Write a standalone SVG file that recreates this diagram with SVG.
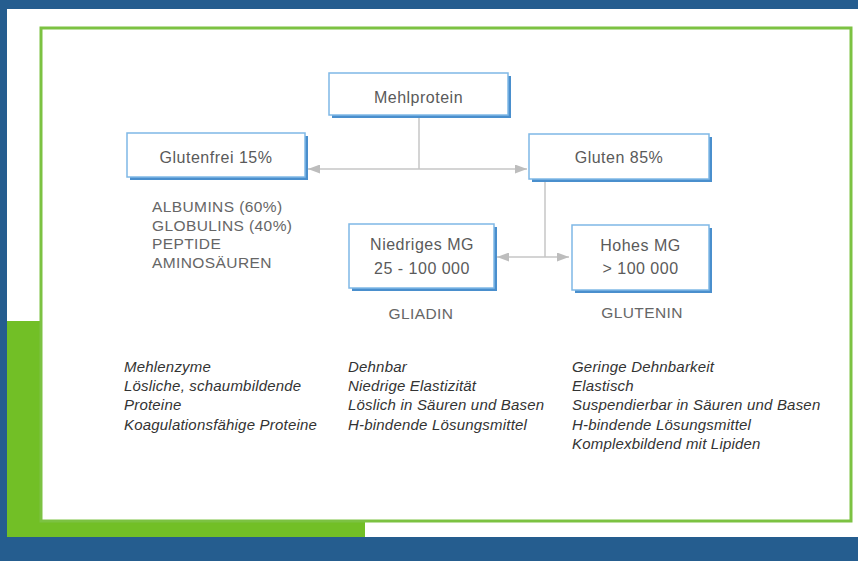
<svg xmlns="http://www.w3.org/2000/svg" width="858" height="561" viewBox="0 0 858 561">
  <style>
    .box { fill: #ffffff; stroke: #7fb8e6; stroke-width: 1.5; }
    .shadow { fill: #4a8fcd; }
    .ntext { font-family: "Liberation Sans", Arial, sans-serif; font-size: 16px; fill: #5a5a5a; text-anchor: middle; letter-spacing: 0.5px; }
    .caps { font-family: "Liberation Sans", Arial, sans-serif; font-size: 15.5px; fill: #666666; letter-spacing: 0.4px; }
    .ital { font-family: "Liberation Sans", Arial, sans-serif; font-size: 15px; font-style: italic; fill: #333333; letter-spacing: 0.2px; }
    .conn { stroke: #c6c6c6; stroke-width: 1.5; fill: none; }
  </style>
  <defs>
    <marker id="arr" viewBox="0 0 12 9" refX="12" refY="4.5" markerWidth="12" markerHeight="9" markerUnits="userSpaceOnUse" orient="auto-start-reverse">
      <path d="M0,0 L12,4.5 L0,9 z" fill="#bdbdbd"/>
    </marker>
  </defs>

  <!-- background -->
  <rect x="0" y="0" width="858" height="561" fill="#255d8f"/>
  <rect x="7" y="9" width="851" height="528" fill="#ffffff"/>
  <rect x="7" y="321" width="358" height="216" fill="#72bf26"/>
  <rect x="41" y="28" width="810" height="493" fill="#ffffff" stroke="#7cc242" stroke-width="3"/>

  <!-- connectors -->
  <g id="connectors">
    <path class="conn" d="M419,116 L419,169"/>
    <path class="conn" d="M308,169 L527,169" marker-start="url(#arr)" marker-end="url(#arr)"/>
    <path class="conn" d="M545,180 L545,257"/>
    <path class="conn" d="M497,257 L569,257" marker-start="url(#arr)" marker-end="url(#arr)"/>
  </g>

  <g id="mehlprotein">
    <rect class="shadow" x="332" y="76" width="179" height="42"/>
    <rect class="box" x="329" y="73" width="179" height="42"/>
    <text class="ntext" x="418.5" y="103">Mehlprotein</text>
  </g>

  <g id="glutenfrei">
    <rect class="shadow" x="130" y="136" width="178" height="44"/>
    <rect class="box" x="127" y="133" width="178" height="44"/>
    <text class="ntext" x="216" y="163">Glutenfrei 15%</text>
  </g>

  <g id="gluten">
    <rect class="shadow" x="532" y="137" width="180" height="45"/>
    <rect class="box" x="529" y="134" width="180" height="45"/>
    <text class="ntext" x="619" y="163">Gluten 85%</text>
  </g>

  <g id="niedriges">
    <rect class="shadow" x="352" y="227" width="145" height="64"/>
    <rect class="box" x="349" y="224" width="145" height="64"/>
    <text class="ntext" x="422" y="250">Niedriges MG</text>
    <text class="ntext" x="422" y="274">25 - 100 000</text>
  </g>

  <g id="hohes">
    <rect class="shadow" x="575" y="228" width="137" height="65"/>
    <rect class="box" x="572" y="225" width="137" height="65"/>
    <text class="ntext" x="640.5" y="251">Hohes MG</text>
    <text class="ntext" x="640.5" y="274">&gt; 100 000</text>
  </g>

  <g id="glutenfrei-list">
    <text class="caps" x="152" y="212">ALBUMINS (60%)</text>
    <text class="caps" x="152" y="231">GLOBULINS (40%)</text>
    <text class="caps" x="152" y="249">PEPTIDE</text>
    <text class="caps" x="152" y="268">AMINOSÄUREN</text>
  </g>

  <g id="gliadin-label">
    <text class="caps" x="421" y="319" text-anchor="middle">GLIADIN</text>
  </g>
  <g id="glutenin-label">
    <text class="caps" x="642" y="318" text-anchor="middle">GLUTENIN</text>
  </g>

  <g id="col1">
    <text class="ital" x="124" y="372">Mehlenzyme</text>
    <text class="ital" x="124" y="391">Lösliche, schaumbildende</text>
    <text class="ital" x="124" y="410">Proteine</text>
    <text class="ital" x="124" y="430">Koagulationsfähige Proteine</text>
  </g>
  <g id="col2">
    <text class="ital" x="348" y="372">Dehnbar</text>
    <text class="ital" x="348" y="391">Niedrige Elastizität</text>
    <text class="ital" x="348" y="410">Löslich in Säuren und Basen</text>
    <text class="ital" x="348" y="430">H-bindende Lösungsmittel</text>
  </g>
  <g id="col3">
    <text class="ital" x="572" y="372">Geringe Dehnbarkeit</text>
    <text class="ital" x="572" y="391">Elastisch</text>
    <text class="ital" x="572" y="410">Suspendierbar in Säuren und Basen</text>
    <text class="ital" x="572" y="430">H-bindende Lösungsmittel</text>
    <text class="ital" x="572" y="449">Komplexbildend mit Lipiden</text>
  </g>
</svg>
